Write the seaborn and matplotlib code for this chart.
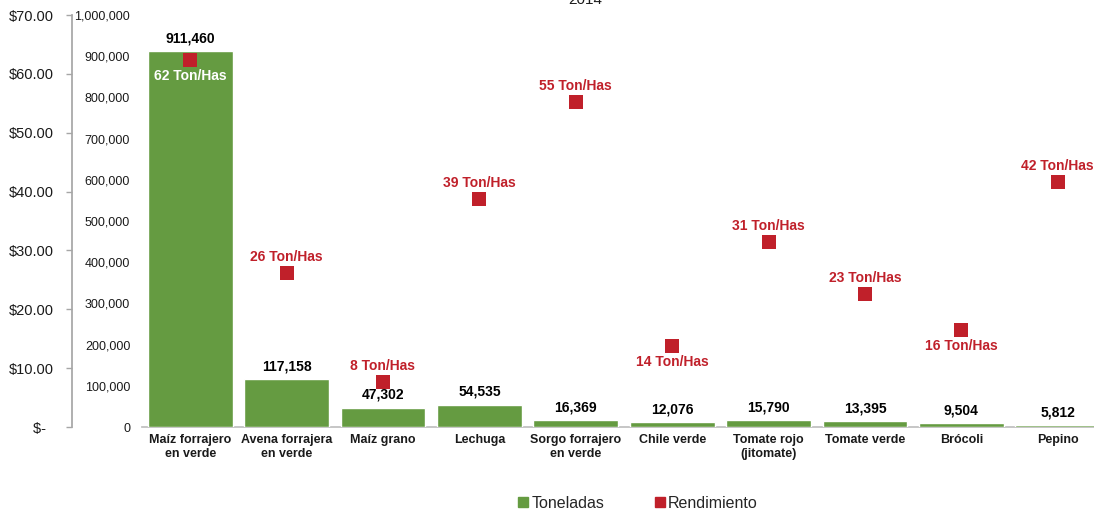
import matplotlib
matplotlib.use("Agg")
import matplotlib.pyplot as plt
import seaborn as sns
from matplotlib.lines import Line2D

# --- Data ---
cultivos = ["Maíz forrajero\nen verde", "Avena forrajera\nen verde", "Maíz grano", "Lechuga",
            "Sorgo forrajero\nen verde", "Chile verde", "Tomate rojo\n(jitomate)", "Tomate verde",
            "Brócoli", "Pepino"]
toneladas = [911460, 117158, 47302, 54535, 16369, 12076, 15790, 13395, 9504, 5812]
rendimiento = [62.3, 26.1, 7.6, 38.8, 55.3, 13.8, 31.4, 22.6, 16.4, 41.6]
ticks_ton = [0, 100000, 200000, 300000, 400000, 500000, 600000, 700000, 800000, 900000, 1000000]
ticks_rend = [0, 10, 20, 30, 40, 50, 60, 70]

# labels drawn under the marker instead of above
abajo = ["Maíz forrajero\nen verde", "Chile verde", "Brócoli"]

verde = "#659B41"
rojo = "#C0202A"

sns.set_theme(style="white")
plt.rcParams["font.family"] = ["Liberation Sans", "DejaVu Sans"]

fig = plt.figure(figsize=(10.94, 5.11), dpi=100)
W, H = 1094, 511
ax = fig.add_axes([142 / W, 1 - 427 / H, 964 / W, 412 / H])

sns.barplot(x=cultivos, y=toneladas, color=verde, saturation=1, width=0.88, ax=ax, zorder=2)
ax.set_ylim(0, 1000000)
ax.set_yticks(ticks_ton)
ax.set_yticklabels([f"{t:,}" for t in ticks_ton])
ax.tick_params(axis="y", length=0, pad=8.5, labelsize=9, labelcolor="#1a1a1a")
ax.tick_params(axis="x", length=0, pad=5)
for lbl in ax.get_xticklabels():
    lbl.set_fontweight("bold")
    lbl.set_fontsize(9)
    lbl.set_color("#1a1a1a")
for s in ["left", "right", "top"]:
    ax.spines[s].set_visible(False)
ax.spines["bottom"].set_color("#BFBFBF")
ax.spines["bottom"].set_zorder(1)
ax.set_xlabel("")
ax.set_ylabel("")

for i, v in enumerate(toneladas):
    ax.annotate(f"{v:,}", (i, v), xytext=(0, 4), textcoords="offset points",
                ha="center", va="bottom", fontsize=10, fontweight="bold", color="black")

# secondary axis (Rendimiento) drawn on the left
ax2 = ax.twinx()
sns.scatterplot(x=list(range(len(cultivos))), y=rendimiento, ax=ax2, marker="s", s=95,
                color=rojo, linewidth=0, zorder=3)
ax.set_xlim(-0.5, len(cultivos) - 0.5)
ax2.set_ylim(0, 70)
ax2.yaxis.tick_left()
ax2.spines["left"].set_position(("axes", -70 / 964))
ax2.spines["left"].set_visible(True)
ax2.spines["left"].set_color("#A6A6A6")
for s in ["right", "top", "bottom"]:
    ax2.spines[s].set_visible(False)
ax2.set_yticks(ticks_rend)
ax2.set_yticklabels([f"${t:.2f}" if t > 0 else "$-  " for t in ticks_rend])
ax2.tick_params(axis="y", direction="out", length=4, width=1, color="#A6A6A6",
                pad=9, labelsize=10.5, labelcolor="#1a1a1a")
ax2.tick_params(axis="x", bottom=False, labelbottom=False)
ax2.set_xlabel("")
ax2.set_ylabel("")

for i, (c, r) in enumerate(zip(cultivos, rendimiento)):
    dy = -11.5 if c in abajo else 11.5
    col = "white" if i == 0 else rojo
    ax2.annotate(f"{r:.0f} Ton/Has", (i, r), xytext=(0, dy), textcoords="offset points",
                 ha="center", va="center", fontsize=10, fontweight="bold", color=col)

# title sits mostly above the top edge, as in the original export
fig.text(585 / W, 1 - 4 / H, "2014", ha="center", va="baseline", fontsize=11, color="#1a1a1a")

handles = [Line2D([], [], marker="s", linestyle="", color=verde, markersize=7),
           Line2D([], [], marker="s", linestyle="", color=rojo, markersize=7)]
fig.legend(handles, ["Toneladas", "Rendimiento"], loc="center", ncol=2, frameon=False,
           bbox_to_anchor=(638 / W, 1 - 503 / H), fontsize=11.5, handlelength=0.6,
           handletextpad=0.2, columnspacing=3.2)

fig.savefig("out.png", dpi=100)
